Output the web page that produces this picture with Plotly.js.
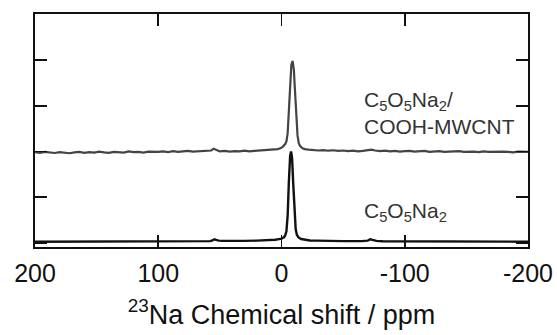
<!DOCTYPE html>
<html>
<head>
<meta charset="utf-8">
<script src="https://cdn.plot.ly/plotly-3.0.1.min.js"></script>
<style>html,body{margin:0;padding:0;background:#fff;}#chart{width:557px;height:335px;}</style>
</head>
<body>
<div id="chart"></div>
<script>
// x-axis ticks (ppm)
var xTickVals = [200, 100, 0, -100, -200];
var xTickText = ["200", "100", "0", "-100", "-200"];
var yTickVals = [0, 1, 2, 3, 4];

// C5O5Na2 (bottom, black)
var shiftPure = [200,180,160,140,120,100,80,65,58,56,54.5,53,51,48,44,40,30,20,10,5,2,0,-2,-3,-4,-5,-6,-7,-7.8,-8.6,-9.5,-10.5,-11.5,-12.5,-14,-16,-19,-23,-28,-35,-50,-65,-70,-72,-74,-77,-82,-100,-120,-150,-180,-200];
var intPure  = [0.02,0.02,0.022,0.022,0.025,0.025,0.028,0.03,0.035,0.05,0.075,0.06,0.045,0.04,0.038,0.038,0.04,0.045,0.055,0.065,0.08,0.09,0.12,0.16,0.25,0.6,1.35,1.9,2.0,1.85,1.3,0.65,0.3,0.17,0.11,0.08,0.06,0.05,0.045,0.04,0.035,0.035,0.045,0.075,0.06,0.04,0.032,0.03,0.028,0.025,0.022,0.022];

// C5O5Na2/COOH-MWCNT (top, gray, offset spectrum)
var shiftComp = [200,196,192,188,184,180,176,172,168,164,160,156,152,148,144,140,136,132,128,124,120,116,112,108,104,100,96,92,88,84,80,76,72,68,64,60,57,55,53,50,46,42,38,34,30,26,22,18,14,10,6,3,1,-1,-3,-4,-5,-6,-7,-8,-9,-10,-11,-12,-13,-14,-15,-17,-19,-22,-26,-30,-34,-38,-42,-46,-50,-54,-58,-62,-66,-70,-73,-76,-80,-84,-88,-92,-96,-100,-104,-108,-112,-116,-120,-124,-128,-132,-136,-140,-144,-148,-152,-156,-160,-164,-168,-172,-176,-180,-184,-188,-192,-196,-200];
var intComp  = [1.985,1.97,1.99,1.975,1.965,1.985,1.975,1.96,1.98,1.99,1.97,1.985,1.975,1.995,1.98,1.97,1.99,1.985,1.975,2.0,1.985,1.99,1.975,1.995,1.985,1.99,2.0,1.985,2.005,1.99,2.0,2.01,1.995,2.005,2.0,2.01,2.02,2.06,2.03,2.0,2.01,1.995,2.005,2.0,2.015,2.0,2.01,2.02,2.015,2.03,2.04,2.05,2.07,2.1,2.16,2.22,2.4,2.9,3.5,3.9,3.98,3.8,3.3,2.7,2.35,2.18,2.12,2.07,2.05,2.04,2.03,2.02,2.03,2.015,2.025,2.01,2.02,2.005,2.015,2.0,2.01,2.02,2.04,2.02,2.005,2.015,2.0,2.01,1.995,2.005,2.01,1.995,2.0,2.01,1.99,2.0,2.005,1.99,2.0,1.995,2.005,1.99,2.0,1.995,1.985,2.0,1.99,1.995,1.985,1.995,1.99,1.98,1.995,1.985,1.99];

var traces = [
  {x: shiftComp, y: intComp, type: 'scatter', mode: 'lines',
   line: {color: '#444444', width: 2.2}, hoverinfo: 'skip'},
  {x: shiftPure, y: intPure, type: 'scatter', mode: 'lines',
   line: {color: '#111111', width: 2.4}, hoverinfo: 'skip'}
];

var labelFont = {size: 21, color: '#333'};
var layout = {
  width: 557, height: 335,
  margin: {l: 35, r: 29, t: 14, b: 88},
  paper_bgcolor: '#ffffff', plot_bgcolor: '#ffffff',
  showlegend: false,
  font: {family: 'Liberation Sans, Arial, sans-serif', color: '#111111'},
  xaxis: {
    range: [200, -200], tickvals: xTickVals, ticktext: xTickText,
    ticks: 'inside', ticklen: 12, tickwidth: 1.6, tickcolor: '#111',
    showline: true, linecolor: '#111', linewidth: 1.8, mirror: 'allticks',
    showgrid: false, zeroline: false,
    tickfont: {size: 25, color: '#111'},
    ticklabelstandoff: 3,
    title: {text: '<sup>23</sup>Na Chemical shift / ppm', font: {size: 27, color: '#111'}, standoff: 19}
  },
  yaxis: {
    range: [-0.094, 5.01], tickvals: yTickVals, showticklabels: false,
    ticks: 'inside', ticklen: 12, tickwidth: 1.6, tickcolor: '#111',
    showline: true, linecolor: '#111', linewidth: 1.8, mirror: 'allticks',
    showgrid: false, zeroline: false
  },
  annotations: [
    {x: 0.664, xref: 'paper', y: 2.835, yref: 'y', xanchor: 'left', yanchor: 'middle', align: 'left', showarrow: false,
     text: 'C<sub>5</sub>O<sub>5</sub>Na<sub>2</sub>/<br>COOH-MWCNT', font: labelFont},
    {x: 0.664, xref: 'paper', y: 0.677, yref: 'y', xanchor: 'left', yanchor: 'middle', align: 'left', showarrow: false,
     text: 'C<sub>5</sub>O<sub>5</sub>Na<sub>2</sub>', font: labelFont}
  ]
};

Plotly.newPlot('chart', traces, layout, {staticPlot: true, displayModeBar: false});
</script>
</body>
</html>
